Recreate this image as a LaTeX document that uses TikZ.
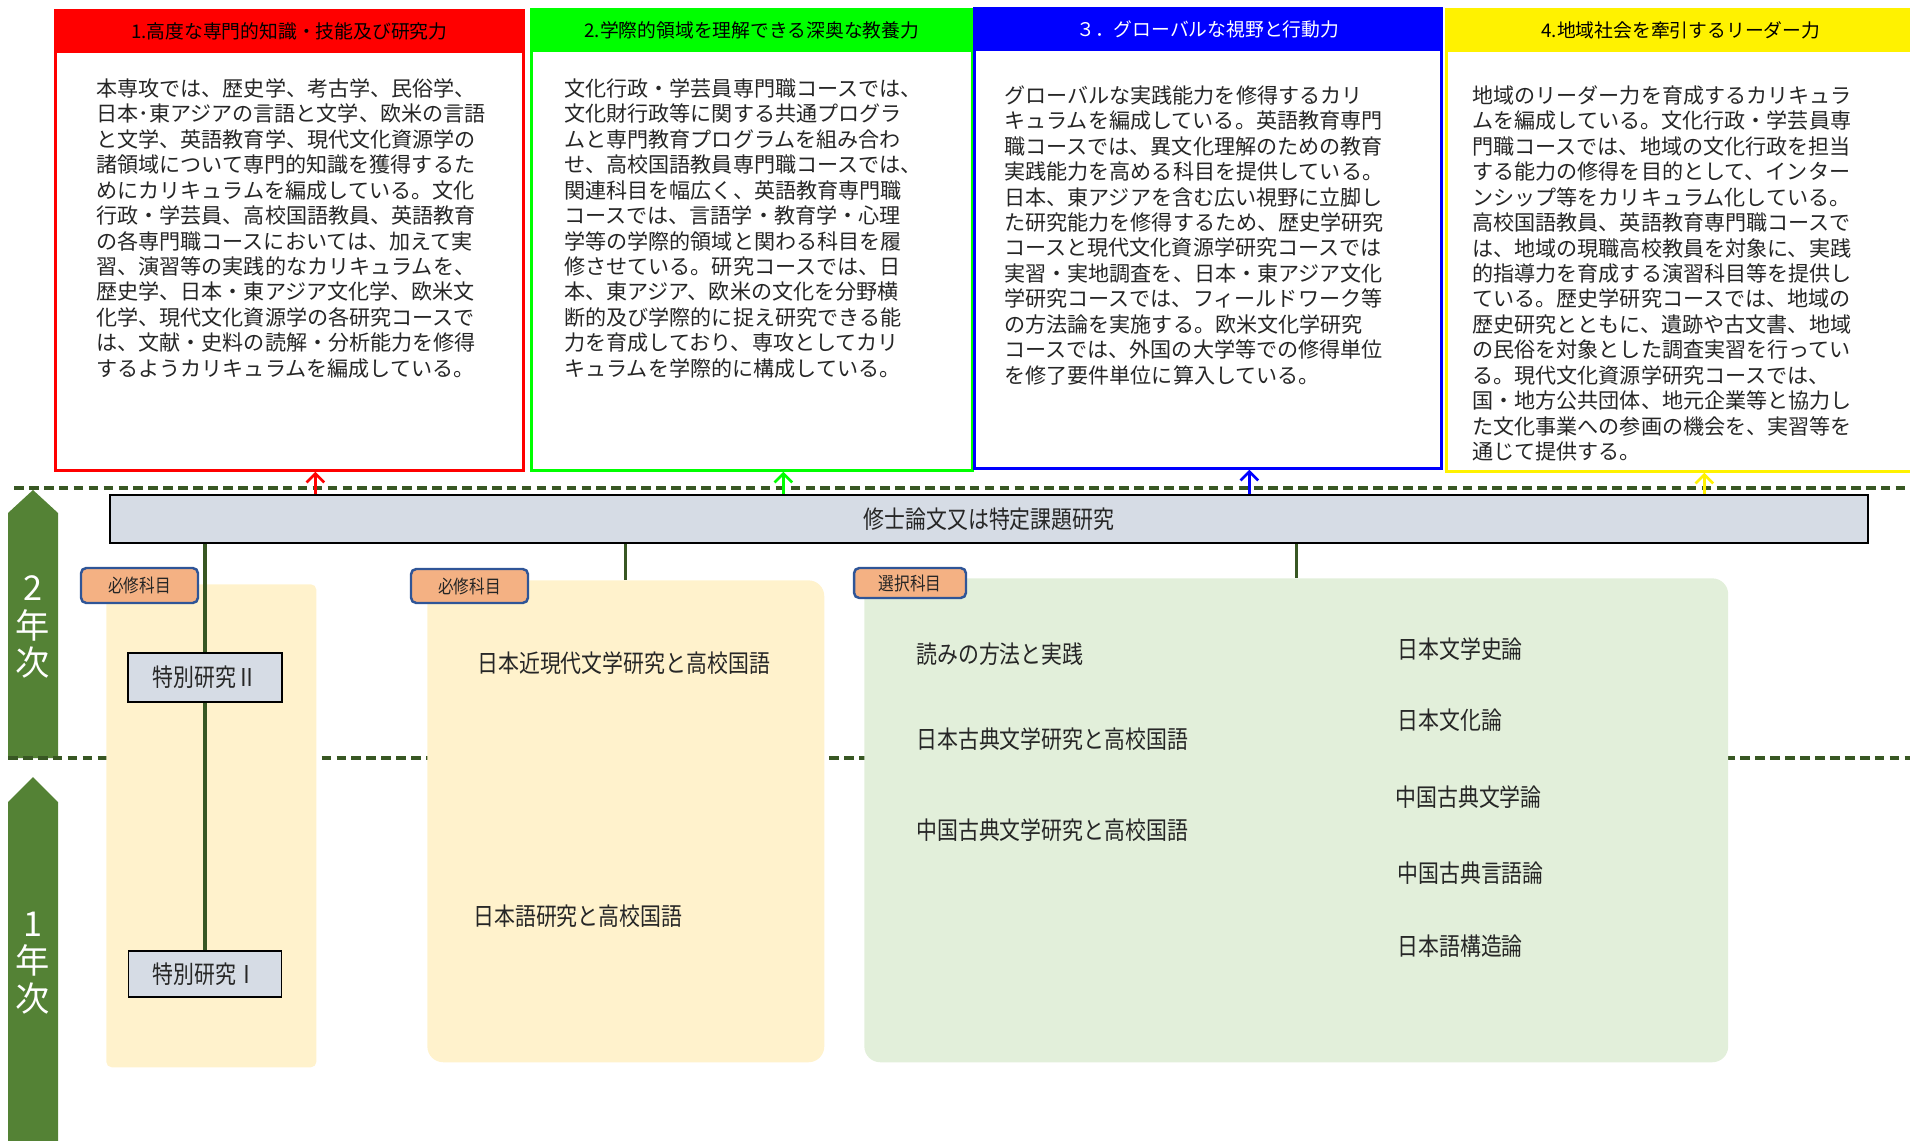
\documentclass[tikz,border=0pt]{standalone}
\usepackage{fontspec}
\setmainfont{Noto Sans CJK JP}
\newfontfamily\narrowjp[FakeStretch=0.85]{Noto Sans CJK JP}
\usetikzlibrary{arrows.meta}

\definecolor{barfill}{HTML}{D6DCE5}
\definecolor{pathgreen}{HTML}{385723}
\definecolor{yeargreen}{HTML}{548235}
\definecolor{reqfill}{HTML}{FFF2CC}
\definecolor{electfill}{HTML}{E2EFDA}
\definecolor{tagfill}{HTML}{F4B183}
\definecolor{tagline}{HTML}{2F5597}

\tikzset{
  goalbox/.style={draw=#1, line width=1.6pt, anchor=north west, inner sep=0pt},
  goalhead/.style={fill=#1, anchor=north, minimum height=0.88cm, inner sep=0pt,
    font=\fontsize{10.7}{12}\selectfont},
  goaltext/.style={anchor=north west, inner sep=0pt, align=left, text=black!85,
    font=\fontsize{12}{14.5}\selectfont},
  goalarrow/.style={draw=#1, line width=1.5pt, -{Straight Barb[length=5pt,width=10pt]}},
  yearline/.style={pathgreen, line width=2.2pt, dash pattern=on 5.5pt off 3pt},
  yearlabel/.style={text=white, align=center, inner sep=0pt, font=\fontsize{19.5}{21.5}\selectfont},
  bar/.style={draw=black, line width=1.1pt, fill=barfill, inner sep=0pt, text=black!85,
    font=\narrowjp\fontsize{14}{16}\selectfont},
  reqbox/.style={fill=reqfill, anchor=north west, inner sep=0pt, rounded corners=9pt},
  electbox/.style={fill=electfill, anchor=north west, inner sep=0pt, rounded corners=9pt},
  tag/.style={draw=tagline, line width=1.4pt, fill=tagfill, rounded corners=3pt, inner sep=0pt,
    text=black!85, font=\narrowjp\fontsize{10.5}{12}\selectfont},
  link/.style={pathgreen, line width=1.8pt},
  subject/.style={anchor=west, inner sep=0pt, text=black!85, font=\narrowjp\fontsize{14}{16}\selectfont}
}

\begin{document}
\begin{tikzpicture}[x=0.02cm, y=-0.02cm]
\useasboundingbox (0,0) rectangle (1910,1141);

% year arrows
\fill[yeargreen] (8,758) -- (8,513) -- (33,490) -- (58,513) -- (58,758) -- cycle;
\fill[yeargreen] (8,1145) -- (8,802) -- (33,777) -- (58,802) -- (58,1145) -- cycle;
\node[yearlabel] (year2) at (33,627) {2\\年\\次};
\node[yearlabel] (year1) at (33,963) {1\\年\\次};

% year borders
\draw[yearline] (14,488) -- (1910,488);
\draw[yearline] (8,758) -- (1910,758);

% goals
\node[goalbox=red, minimum width=9.36cm, minimum height=9.2cm] (g1) at (54,9) {};
\node[goalbox=green, minimum width=8.82cm, minimum height=9.22cm] (g2) at (530,8) {};
\node[goalbox=blue, minimum width=9.34cm, minimum height=9.2cm] (g3) at (973,7) {};
\node[goalbox=yellow, minimum width=9.38cm, minimum height=9.24cm] (g4) at (1445,8) {};

\node[goalhead=red, minimum width=9.36cm] (h1) at (g1.north) {1.高度な専門的知識・技能及び研究力};
\node[goalhead=green, minimum width=8.82cm] (h2) at (g2.north) {2.学際的領域を理解できる深奥な教養力};
\node[goalhead=blue, minimum width=9.34cm, text=white] (h3) at (g3.north) {３．グローバルな視野と行動力};
\node[goalhead=yellow, minimum width=9.38cm] (h4) at (g4.north) {4.地域社会を牽引するリーダー力};

\node[goaltext] (t1) at (96,78) {本専攻では、歴史学、考古学、民俗学、\\
日本･東アジアの言語と文学、欧米の言語\\
と文学、英語教育学、現代文化資源学の\\
諸領域について専門的知識を獲得するた\\
めにカリキュラムを編成している。文化\\
行政・学芸員、高校国語教員、英語教育\\
の各専門職コースにおいては、加えて実\\
習、演習等の実践的なカリキュラムを、\\
歴史学、日本・東アジア文化学、欧米文\\
化学、現代文化資源学の各研究コースで\\
は、文献・史料の読解・分析能力を修得\\
するようカリキュラムを編成している。};

\node[goaltext] (t2) at (564,78) {文化行政・学芸員専門職コースでは、\\
文化財行政等に関する共通プログラ\\
ムと専門教育プログラムを組み合わ\\
せ、高校国語教員専門職コースでは、\\
関連科目を幅広く、英語教育専門職\\
コースでは、言語学・教育学・心理\\
学等の学際的領域と関わる科目を履\\
修させている。研究コースでは、日\\
本、東アジア、欧米の文化を分野横\\
断的及び学際的に捉え研究できる能\\
力を育成しており、専攻としてカリ\\
キュラムを学際的に構成している。};

\node[goaltext] (t3) at (1004,85) {グローバルな実践能力を修得するカリ\\
キュラムを編成している。英語教育専門\\
職コースでは、異文化理解のための教育\\
実践能力を高める科目を提供している。\\
日本、東アジアを含む広い視野に立脚し\\
た研究能力を修得するため、歴史学研究\\
コースと現代文化資源学研究コースでは\\
実習・実地調査を、日本・東アジア文化\\
学研究コースでは、フィールドワーク等\\
の方法論を実施する。欧米文化学研究\\
コースでは、外国の大学等での修得単位\\
を修了要件単位に算入している。};

\node[goaltext] (t4) at (1472,85) {地域のリーダー力を育成するカリキュラ\\
ムを編成している。文化行政・学芸員専\\
門職コースでは、地域の文化行政を担当\\
する能力の修得を目的として、インター\\
ンシップ等をカリキュラム化している。\\
高校国語教員、英語教育専門職コースで\\
は、地域の現職高校教員を対象に、実践\\
的指導力を育成する演習科目等を提供し\\
ている。歴史学研究コースでは、地域の\\
歴史研究とともに、遺跡や古文書、地域\\
の民俗を対象とした調査実習を行ってい\\
る。現代文化資源学研究コースでは、\\
国・地方公共団体、地元企業等と協力し\\
た文化事業への参画の機会を、実習等を\\
通じて提供する。};

% thesis
\node[bar, minimum width=35.16cm, minimum height=0.96cm] (thesis) at (989,519) {修士論文又は特定課題研究};

\draw[goalarrow=red] ([xshift=0.52cm]g1.south |- thesis.north) -- ([xshift=0.52cm]g1.south);
\draw[goalarrow=green] ([xshift=0.63cm]g2.south |- thesis.north) -- ([xshift=0.63cm]g2.south);
\draw[goalarrow=blue] ([xshift=0.83cm]g3.south |- thesis.north) -- ([xshift=0.83cm]g3.south);
\draw[goalarrow=yellow] ([xshift=0.47cm]g4.south |- thesis.north) -- ([xshift=0.47cm]g4.south);

% course groups
\node[reqbox, minimum width=4.2cm, minimum height=9.66cm, rounded corners=3pt] (req1) at (106,584) {};
\node[reqbox, minimum width=7.94cm, minimum height=9.64cm] (req2) at (427,580) {};
\node[electbox, minimum width=17.28cm, minimum height=9.68cm] (elect) at (864,578) {};

\node[tag, minimum width=2.34cm, minimum height=0.7cm] (tag1) at (139.5,585.5) {必修科目};
\node[tag, minimum width=2.34cm, minimum height=0.68cm] (tag2) at (469.5,586) {必修科目};
\node[tag, minimum width=2.24cm, minimum height=0.6cm] (tag3) at (910,583) {選択科目};

\node[bar, minimum width=3.08cm, minimum height=0.98cm] (tok2) at (205,677.5) {特別研究Ⅱ};
\node[bar, minimum width=3.06cm, minimum height=0.92cm] (tok1) at (205,974) {特別研究Ⅰ};

\draw[link] (thesis.south -| tok2.north) -- (tok2.north);
\draw[link] (tok2.south) -- (tok1.north);
\draw[link] (thesis.south -| req2.north) -- (req2.north);
\draw[link] (thesis.south -| elect.north) -- (elect.north);

\node[subject] (s1) at (477,663) {日本近現代文学研究と高校国語};
\node[subject] (s2) at (473,916) {日本語研究と高校国語};

\node[subject] (e1) at (916,654) {読みの方法と実践};
\node[subject] (e2) at (916,739) {日本古典文学研究と高校国語};
\node[subject] (e3) at (916,830) {中国古典文学研究と高校国語};
\node[subject] (e4) at (1397,649) {日本文学史論};
\node[subject] (e5) at (1397,720) {日本文化論};
\node[subject] (e6) at (1395,797) {中国古典文学論};
\node[subject] (e7) at (1397,873) {中国古典言語論};
\node[subject] (e8) at (1397,946) {日本語構造論};
\end{tikzpicture}
\end{document}
